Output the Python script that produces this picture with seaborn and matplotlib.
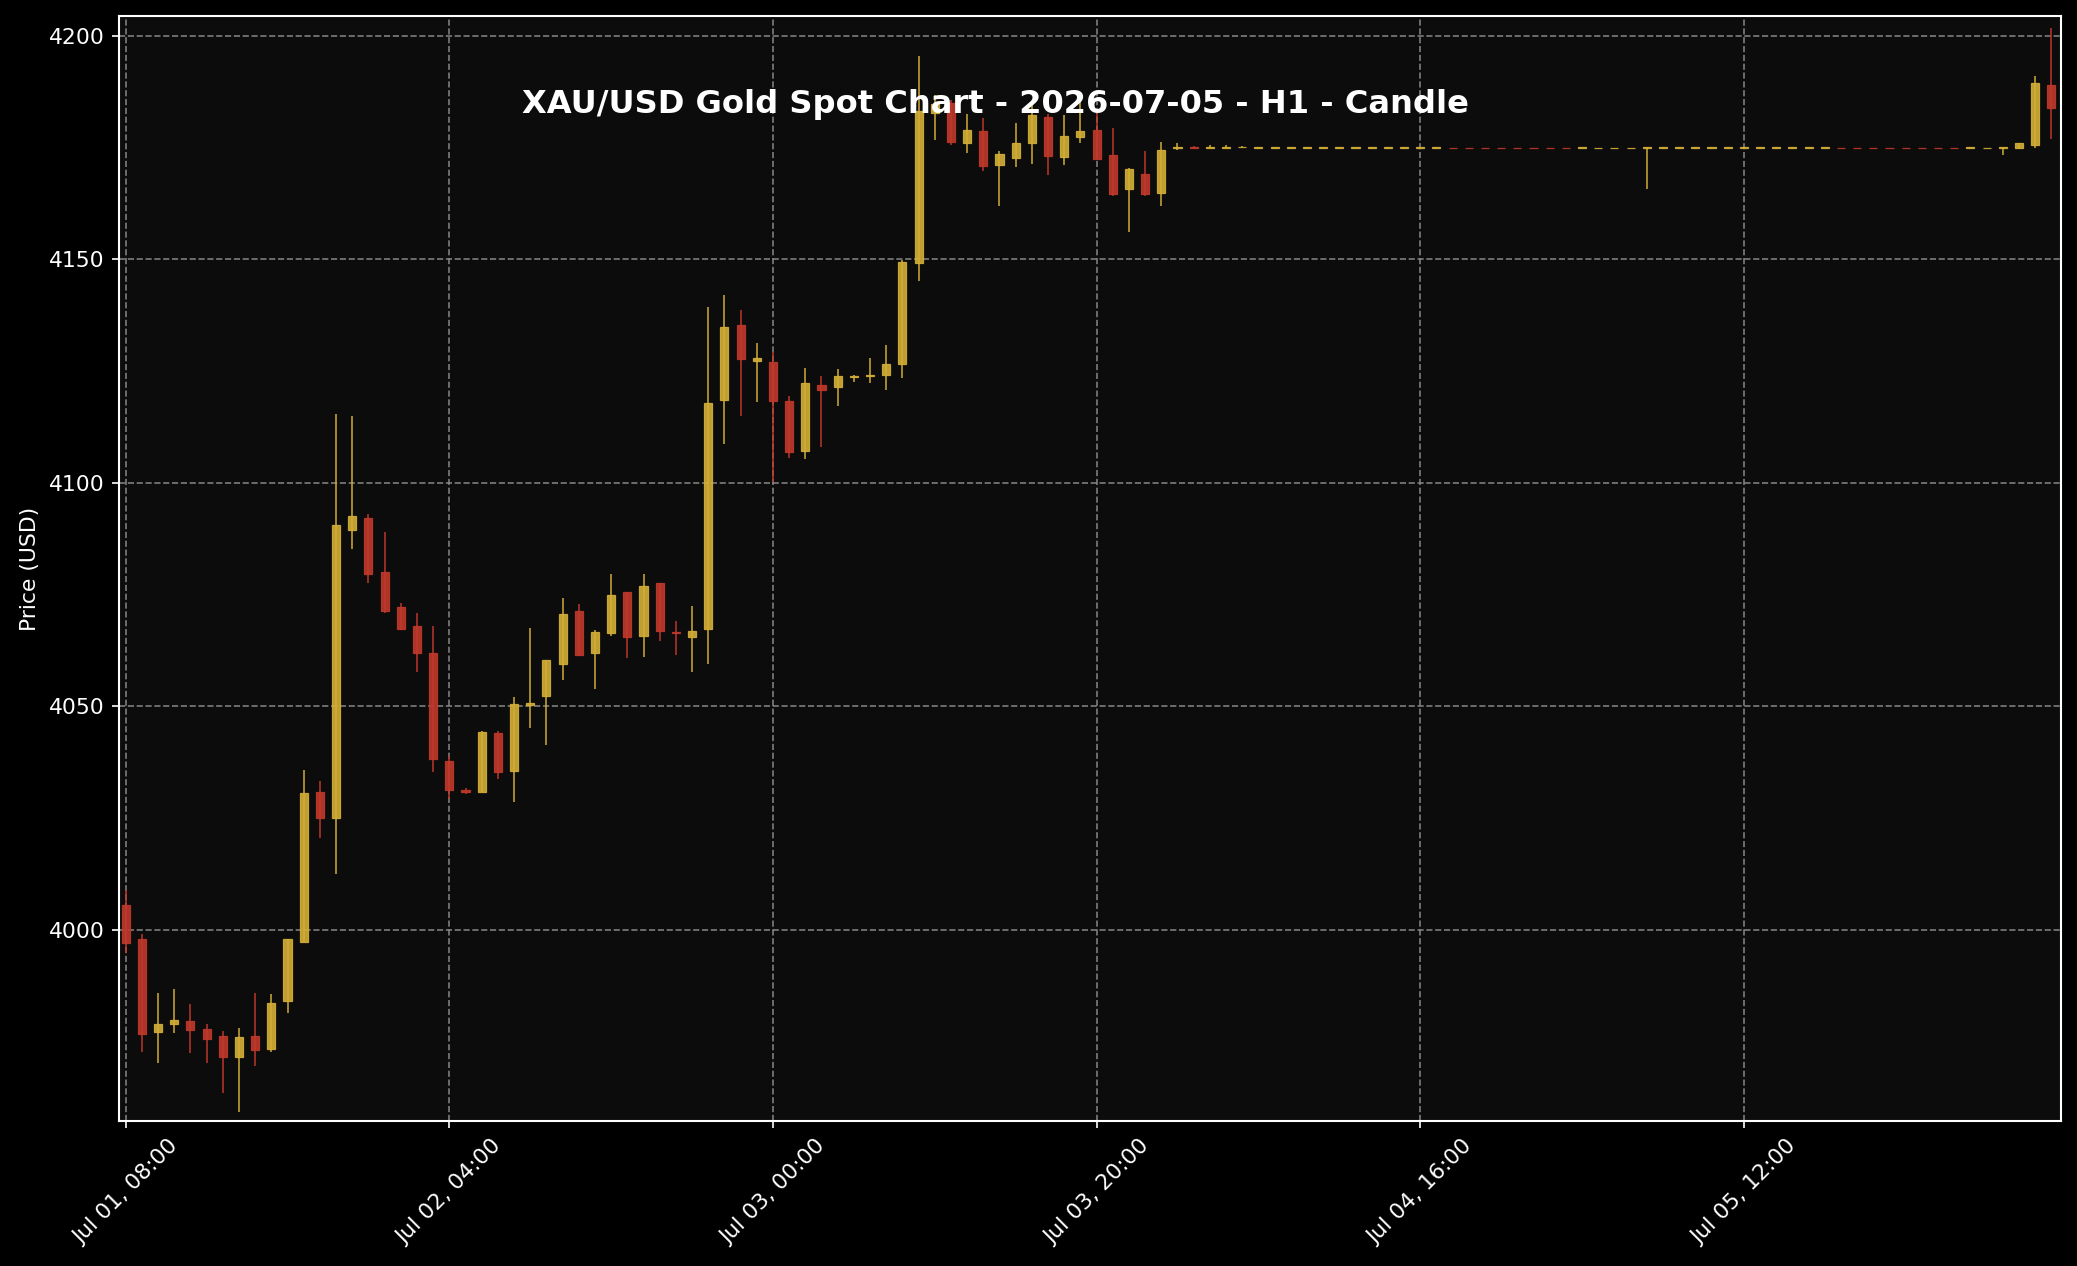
import pandas as pd
import matplotlib
matplotlib.use("Agg")
import matplotlib.pyplot as plt
import matplotlib.dates as mdates
from matplotlib.ticker import MultipleLocator
import seaborn as sns

# hourly XAU/USD candles, Jul 01 08:00 -> Jul 06 07:00
start = "2026-07-01 08:00"

opens = [
    4005.7, 3998.1, 3977.2, 3979.1, 3979.6, 3977.9, 3976.3, 3971.6, 3976.3, 3973.4,
    3984.1, 3997.4, 4030.9, 4025.0, 4089.4, 4092.1, 4080.1, 4072.3, 4067.9, 4061.9,
    4037.7, 4031.3, 4030.8, 4044.1, 4035.5, 4050.3, 4052.4, 4059.6, 4071.4, 4062.0,
    4066.4, 4075.6, 4065.8, 4077.6, 4066.7, 4065.6, 4067.4, 4118.6, 4135.3, 4127.3,
    4127.1, 4118.4, 4107.2, 4121.9, 4121.4, 4123.6, 4123.9, 4124.1, 4126.5, 4149.2,
    4182.7, 4184.9, 4176.1, 4178.7, 4171.1, 4172.7, 4176.0, 4181.8, 4172.9, 4177.4,
    4179.0, 4173.3, 4165.7, 4169.0, 4164.8, 4174.9, 4175.05, 4174.95, 4174.95, 4175.0,
    4174.9, 4174.9, 4174.9, 4174.9, 4174.9, 4174.9, 4174.9, 4174.9, 4174.9, 4174.9,
    4174.9, 4174.9, 4174.9, 4174.9, 4174.9, 4174.9, 4174.9, 4174.9, 4174.9, 4174.9,
    4174.9, 4174.85, 4174.85, 4174.85, 4174.9, 4174.9, 4174.9, 4174.9, 4174.9, 4174.9,
    4174.9, 4174.9, 4174.9, 4174.9, 4174.9, 4174.9, 4174.9, 4174.9, 4174.9, 4174.9,
    4174.9, 4174.9, 4174.9, 4174.9, 4174.9, 4174.85, 4174.9, 4174.9, 4175.6, 4189.0,
]
highs = [
    4008.9, 3999.2, 3986.0, 3986.8, 3983.5, 3979.1, 3977.4, 3978.2, 3986.0, 3985.7,
    3998.1, 4035.8, 4033.3, 4115.3, 4115.0, 4093.1, 4088.9, 4073.1, 4071.0, 4068.0,
    4039.0, 4031.7, 4044.6, 4044.6, 4052.2, 4067.6, 4060.4, 4074.2, 4072.8, 4067.1,
    4079.6, 4075.6, 4079.6, 4077.6, 4069.2, 4072.4, 4139.4, 4142.1, 4138.6, 4131.2,
    4129.2, 4119.4, 4125.7, 4123.9, 4125.5, 4124.1, 4127.9, 4130.9, 4149.9, 4195.4,
    4186.8, 4185.7, 4182.4, 4181.5, 4174.3, 4180.5, 4184.7, 4182.5, 4182.2, 4185.8,
    4182.8, 4179.4, 4170.4, 4174.3, 4176.3, 4176.1, 4175.4, 4175.5, 4175.5, 4175.3,
    4175.1, 4175.1, 4175.1, 4175.1, 4175.1, 4175.1, 4175.1, 4175.1, 4175.1, 4175.1,
    4175.1, 4175.1, 4174.95, 4174.95, 4174.95, 4174.95, 4174.95, 4174.95, 4174.95, 4174.95,
    4175.1, 4174.9, 4174.9, 4174.9, 4175.1, 4175.1, 4175.1, 4175.1, 4175.1, 4175.1,
    4175.1, 4175.1, 4175.1, 4175.1, 4175.1, 4175.1, 4174.95, 4174.95, 4174.95, 4174.95,
    4174.95, 4174.95, 4174.95, 4174.95, 4175.1, 4174.9, 4175.1, 4176.1, 4190.9, 4201.8,
]
lows = [
    3994.9, 3972.8, 3970.3, 3977.0, 3972.5, 3970.3, 3963.5, 3959.3, 3969.6, 3972.8,
    3981.5, 3997.4, 4020.5, 4012.6, 4085.1, 4077.7, 4071.0, 4067.1, 4057.8, 4035.3,
    4029.3, 4030.5, 4030.8, 4033.8, 4028.7, 4045.2, 4041.3, 4055.9, 4061.3, 4053.9,
    4065.8, 4060.8, 4061.0, 4064.6, 4061.5, 4057.6, 4059.6, 4108.7, 4115.0, 4118.0,
    4100.2, 4105.6, 4105.3, 4108.0, 4117.2, 4122.5, 4122.3, 4120.8, 4123.4, 4145.2,
    4176.6, 4175.5, 4173.7, 4169.8, 4162.0, 4170.6, 4171.2, 4168.9, 4171.0, 4175.9,
    4172.4, 4164.2, 4156.1, 4164.2, 4162.0, 4174.5, 4174.8, 4174.8, 4174.8, 4174.9,
    4174.9, 4174.9, 4174.9, 4174.9, 4174.9, 4174.9, 4174.9, 4174.9, 4174.9, 4174.9,
    4174.9, 4174.9, 4174.8, 4174.8, 4174.8, 4174.8, 4174.8, 4174.8, 4174.8, 4174.8,
    4174.9, 4174.85, 4174.85, 4174.85, 4165.7, 4174.9, 4174.9, 4174.9, 4174.9, 4174.9,
    4174.9, 4174.9, 4174.9, 4174.9, 4174.9, 4174.9, 4174.8, 4174.8, 4174.8, 4174.8,
    4174.8, 4174.8, 4174.8, 4174.8, 4174.9, 4174.85, 4173.3, 4174.6, 4174.8, 4176.9,
]
closes = [
    3997.0, 3976.8, 3979.1, 3979.9, 3977.6, 3975.6, 3971.6, 3976.1, 3973.1, 3983.7,
    3997.9, 4030.7, 4025.0, 4090.5, 4092.5, 4079.6, 4071.3, 4067.3, 4062.0, 4038.2,
    4031.3, 4030.9, 4044.4, 4035.3, 4050.5, 4050.7, 4060.3, 4070.7, 4061.5, 4066.7,
    4074.9, 4065.6, 4077.0, 4066.8, 4066.5, 4066.9, 4117.8, 4134.9, 4127.7, 4127.9,
    4118.2, 4106.8, 4122.4, 4120.7, 4123.8, 4124.0, 4124.2, 4126.5, 4149.3, 4183.1,
    4184.8, 4176.3, 4178.9, 4170.9, 4173.5, 4176.0, 4182.3, 4173.1, 4177.5, 4178.7,
    4172.4, 4164.6, 4170.1, 4164.6, 4174.4, 4175.1, 4174.95, 4175.05, 4175.05, 4175.0,
    4175.1, 4175.1, 4175.1, 4175.1, 4175.1, 4175.1, 4175.1, 4175.1, 4175.1, 4175.1,
    4175.1, 4175.1, 4174.85, 4174.85, 4174.85, 4174.85, 4174.85, 4174.85, 4174.85, 4174.85,
    4175.1, 4174.85, 4174.85, 4174.85, 4175.1, 4175.1, 4175.1, 4175.1, 4175.1, 4175.1,
    4175.1, 4175.1, 4175.1, 4175.1, 4175.1, 4175.1, 4174.85, 4174.85, 4174.85, 4174.85,
    4174.85, 4174.85, 4174.85, 4174.85, 4175.1, 4174.85, 4175.1, 4175.9, 4189.4, 4183.9,
]

up_color = "#D4AF37"
down_color = "#C0392B"

df = pd.DataFrame({"open": opens, "high": highs, "low": lows, "close": closes})
df["time"] = pd.date_range(start, periods=len(df), freq="h")
df["color"] = [up_color if c >= o else down_color for o, c in zip(df.open, df.close)]

sns.set_theme(style="darkgrid")
plt.rcParams["font.family"] = ["DejaVu Sans"]

fig = plt.figure(figsize=(2077 / 150, 1266 / 150), dpi=150, facecolor="black")
ax = fig.add_axes([0.0574, 0.1145, 0.9349, 0.8729])
ax.set_facecolor("#0c0c0c")
ax.grid(True, color="#8a8a8a", linestyle="--", linewidth=0.8, alpha=0.9)
ax.set_axisbelow(True)

width = pd.Timedelta(minutes=30)
ax.vlines(df.time, df.low, df.high, colors=df.color, linewidth=0.8, alpha=0.9, zorder=2)
ax.bar(df.time, df.close - df.open, bottom=df.open, width=width,
       color=df.color, edgecolor=df.color, linewidth=0.6, alpha=0.9, zorder=3)

ax.set_xlim(df.time.iloc[0] - pd.Timedelta(minutes=24),
            df.time.iloc[-1] + pd.Timedelta(minutes=36))
ax.set_ylim(3957.3, 4204.4)
ax.yaxis.set_major_locator(MultipleLocator(50))
ax.set_xticks(pd.date_range(start, periods=6, freq="20h"))
ax.xaxis.set_major_formatter(mdates.DateFormatter("%b %d, %H:%M"))
plt.setp(ax.get_xticklabels(), rotation=45)

ax.tick_params(colors="white", labelsize=10.5, length=3.5, width=0.8,
               bottom=True, left=True)
for s in ax.spines.values():
    s.set_visible(True)
    s.set_color("white")
    s.set_linewidth(1.0)
ax.set_ylabel("Price (USD)", color="white", fontsize=10.5)

fig.text(0.4793, 0.911, "XAU/USD Gold Spot Chart - 2026-07-05 - H1 - Candle",
         color="white", fontsize=15.4, fontweight="bold", ha="center", va="baseline")

fig.savefig("out.png", dpi=150, facecolor="black")
